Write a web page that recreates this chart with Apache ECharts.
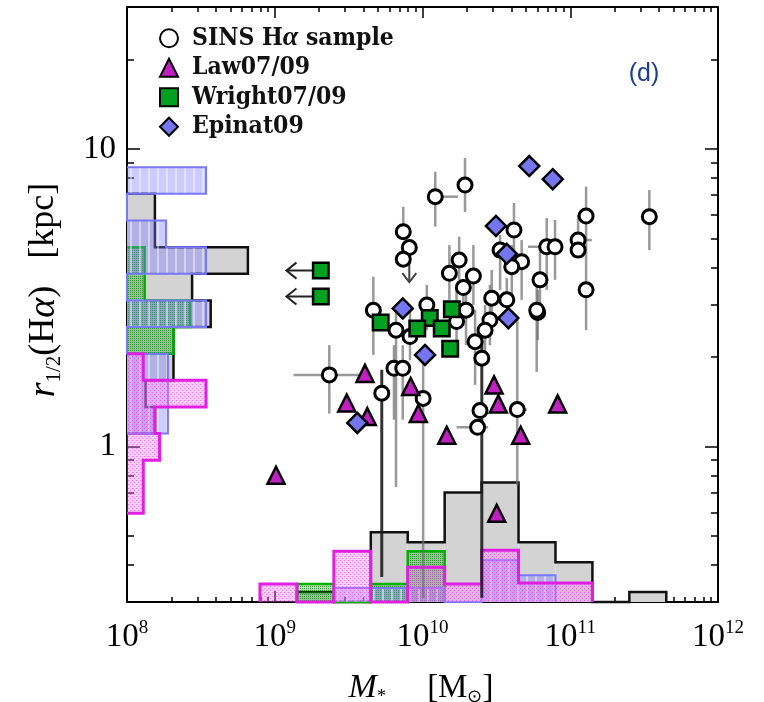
<!DOCTYPE html>
<html><head><meta charset="utf-8">
<script src="https://cdn.jsdelivr.net/npm/echarts@6/dist/echarts.min.js"></script>
<style>html,body{margin:0;padding:0;background:#fff}#c{width:764px;height:702px}</style>
</head><body><div id="c"></div>
<script>
// ================= DATA =================
// x-axis tick labels (exponents of 10, stellar mass in Msun)
const xTickExponents = [8, 9, 10, 11, 12];
// y-axis tick labels (kpc)
const yTickLabels = [1, 10];

// SINS Halpha sample: [M*, r1/2, rLow, rHigh, MLow, MHigh]
const sinsHa = [
  [1.22e10, 6.91, 5.48, 8.38, null, 1.74e10],
  [1.94e10, 7.56, 6.14, 9.32],
  [7.41e9, 5.27, null, 6.39],
  [8.14e9, 4.66],
  [7.41e9, 4.26],
  [4.65e9, 2.87, 2.03, 3.72],
  [1.52e10, 3.82, 3.11, 4.75],
  [1.77e10, 4.23, 3.63, 5.07],
  [1.89e10, 3.42, 2.66, null],
  [1.28e11, 5.95, 4.57, 7.47],
  [3.43e11, 5.92, 4.57, 7.28],
  [4.16e10, 5.34, 4.07, 6.58],
  [3.35e10, 4.57, 3.36, 5.14],
  [4.69e10, 4.18, 3.11, 4.94],
  [4.02e10, 4.02, 2.99, 4.75],
  [6.93e10, 4.69, 3.36, 5.86, 5.18e10, 8.75e10],
  [7.89e10, 4.69, 3.63, 5.77],
  [1.13e11, 4.94, null, 6.00, null, 1.40e11],
  [1.13e11, 4.57],
  [1.28e11, 3.36, 2.46, 4.57],
  [6.24e10, 3.63, 2.66, 4.75],
  [6.02e10, 2.82, 2.28, 3.36],
  [2.21e10, 3.74, 2.99, 4.75],
  [2.94e10, 3.15, 2.46, 3.92],
  [3.72e10, 3.11, 2.56, 3.68],
  [6.62e9, 2.46, 0.73, 2.99],
  [8.23e9, 2.34, 1.95, 2.99],
  [1.07e10, 2.99, 2.46, 3.49],
  [1.97e10, 2.87, 2.19, 3.49],
  [1.70e10, 2.63, 2.19, 3.36],
  [2.86e10, 2.66, 2.19, 3.49],
  [2.65e10, 2.46, 1.95, 2.99],
  [2.27e10, 2.25, 1.61, 2.87],
  [5.93e10, 2.87, 1.78, 3.49],
  [2.34e9, 1.74, 1.29, 2.19, 1.34e9, 3.97e9],
  [5.30e9, 1.51, 0.364, 1.81],
  [6.41e9, 1.83, 1.23, 2.19],
  [7.35e9, 1.83, 1.23, 2.19],
  [1.01e10, 1.45, 0.31, 1.95],
  [2.52e10, 1.98, 0.31, 2.56],
  [2.45e10, 1.32],
  [4.38e10, 1.33, 0.742, 2.66, 3.91e10, 5.1e10],
  [2.36e10, 1.16, null, null, 1.70e10, 2.78e10]
];
// SINS upper limit in size: [M*, rFrom, rTo]
const sinsUpperLimits = [[8.14e9, 4.66, 3.57]];

// Law07/09: [M*, r1/2]
const law0709 = [
  [1.02e9, 0.80], [4.08e9, 1.76], [3.07e9, 1.40], [4.23e9, 1.26],
  [8.32e9, 1.59], [9.37e9, 1.29], [1.46e10, 1.09], [3.05e10, 1.61],
  [3.26e10, 1.39], [8.22e10, 1.39], [4.62e10, 1.09], [3.18e10, 0.596]
];
// Wright07/09: [M*, r1/2]
const wright0709 = [
  [2.05e9, 3.90], [2.05e9, 3.19], [5.21e9, 2.61], [1.12e10, 2.70],
  [9.22e9, 2.49], [1.35e10, 2.49], [1.58e10, 2.89], [1.54e10, 2.13]
];
// Wright upper limits in mass: [M*, r1/2, arrow tip M*]
const wrightMassLimits = [[2.05e9, 3.90, 1.2e9], [2.05e9, 3.19, 1.2e9]];
// Epinat09: [M*, r1/2]
const epinat09 = [
  [5.28e10, 8.76], [7.61e10, 7.91], [3.14e10, 5.51], [3.72e10, 4.44],
  [7.35e9, 2.91], [3.81e10, 2.70], [1.04e10, 2.03], [3.62e9, 1.20]
];

// Mass histogram (bottom): bin edges in log10(M*/Msun), heights (histogram units)
const massBinEdges = [8.9, 9.15, 9.4, 9.65, 9.9, 10.15, 10.4, 10.65, 10.9, 11.15, 11.4, 11.65];
const massHistSINS   = [0, 1, 0, 7, 6, 11, 12, 6, 4, 0, 1];
const massHistWright = [0, 1.8, 0, 1.8, 5.1, 0, 0, 0, 0, 0, 0];
const massHistEpinat = [0, 0, 1.4, 1.4, 1.4, 0, 4.2, 2.7, 0, 0, 0];
const massHistLaw    = [1.8, 0, 5.1, 0, 3.5, 1.8, 5.2, 1.9, 1.9, 0, 0];

// Size histogram (left): bin edges in kpc, widths (histogram units)
const radBinEdges = [0.596, 0.732, 0.899, 1.105, 1.358, 1.669, 2.051, 2.521, 3.097, 3.806, 4.677, 5.748, 7.063, 8.680];
const radHistSINS   = [0, 0, 0, 3, 2, 5, 5, 9, 7, 13, 3, 3, 0];
const radHistWright = [0, 0, 0, 0, 0, 0, 5.0, 6.8, 1.9, 1.9, 0, 0, 0];
const radHistEpinat = [0, 0, 0, 4.4, 4.4, 4.4, 0, 8.5, 0, 8.5, 4.2, 0, 8.5];
const radHistLaw    = [1.75, 1.75, 3.5, 3.0, 8.5, 1.75, 0, 0, 0, 0, 0, 0, 0];

// ================= STYLE / BUILD =================
const L = Math.log10;
const darkErrorBars = [35, 39];

function makePattern(w, h, draw) {
  const c = document.createElement('canvas');
  c.width = w; c.height = h;
  draw(c.getContext('2d'));
  return { image: c, repeat: 'repeat' };
}
const patBlue = makePattern(9, 4, g => {
  g.fillStyle = 'rgba(120,120,255,0.38)'; g.fillRect(0, 0, 9, 4);
  g.fillStyle = 'rgba(255,255,255,0.45)'; g.fillRect(4, 0, 2, 4);
});
const patGreen = makePattern(4, 4, g => {
  g.fillStyle = 'rgba(0,170,0,0.30)'; g.fillRect(0, 0, 4, 4);
  g.fillStyle = 'rgba(0,120,0,0.65)'; g.fillRect(0, 0, 1, 1); g.fillRect(2, 2, 1, 1);
  g.fillRect(2, 0, 1, 1); g.fillRect(0, 2, 1, 1);
});
const patMag = makePattern(4, 4, g => {
  g.fillStyle = 'rgba(255,120,255,0.35)'; g.fillRect(0, 0, 4, 4);
  g.fillStyle = 'rgba(225,50,225,0.6)'; g.fillRect(0, 0, 1, 1); g.fillRect(2, 2, 1, 1);
});

function firstLast(vals) {
  let f = -1, l = -1;
  vals.forEach((v, i) => { if (v > 0) { if (f < 0) f = i; l = i; } });
  return [f, l];
}

function massHist(name, vals, fill, stroke, lw, z) {
  const items = [];
  vals.forEach((v, i) => { if (v > 0) items.push([massBinEdges[i], massBinEdges[i + 1], v]); });
  return {
    type: 'custom', name, xAxisIndex: 0, yAxisIndex: 4, z, silent: true, data: items,
    renderItem(params, api) {
      const a = api.coord([api.value(0), 0]), b = api.coord([api.value(1), api.value(2)]);
      const ch = [{ type: 'rect', shape: { x: a[0], y: b[1], width: b[0] - a[0], height: a[1] - b[1] }, style: { fill } }];
      if (params.dataIndex === 0) {
        const [f, l] = firstLast(vals);
        const pts = [api.coord([massBinEdges[f], 0])];
        for (let i = f; i <= l; i++) {
          pts.push(api.coord([massBinEdges[i], vals[i]]));
          pts.push(api.coord([massBinEdges[i + 1], vals[i]]));
        }
        pts.push(api.coord([massBinEdges[l + 1], 0]));
        ch.push({ type: 'polyline', z2: 10, shape: { points: pts }, style: { stroke, lineWidth: lw, fill: null, lineJoin: 'miter' } });
      }
      return { type: 'group', children: ch };
    }
  };
}
function radHist(name, vals, fill, stroke, lw, z) {
  const items = [];
  vals.forEach((v, i) => { if (v > 0) items.push([L(radBinEdges[i]), L(radBinEdges[i + 1]), v]); });
  return {
    type: 'custom', name, xAxisIndex: 4, yAxisIndex: 0, z, silent: true, data: items,
    renderItem(params, api) {
      const a = api.coord([0, api.value(0)]), b = api.coord([api.value(2), api.value(1)]);
      const ch = [{ type: 'rect', shape: { x: a[0], y: b[1], width: b[0] - a[0], height: a[1] - b[1] }, style: { fill } }];
      if (params.dataIndex === 0) {
        const [f, l] = firstLast(vals);
        const pts = [api.coord([0, L(radBinEdges[f])])];
        for (let i = f; i <= l; i++) {
          pts.push(api.coord([vals[i], L(radBinEdges[i])]));
          pts.push(api.coord([vals[i], L(radBinEdges[i + 1])]));
        }
        pts.push(api.coord([0, L(radBinEdges[l + 1])]));
        ch.push({ type: 'polyline', z2: 10, shape: { points: pts }, style: { stroke, lineWidth: lw, fill: null, lineJoin: 'miter' } });
      }
      return { type: 'group', children: ch };
    }
  };
}

const xMinor = [];
for (let n = 8; n < 12; n++) for (let k = 2; k <= 9; k++) xMinor.push(n + L(k));
const yMinor = [0.4, 0.5, 0.6, 0.7, 0.8, 0.9, 2, 3, 4, 5, 6, 7, 8, 9, 20].map(L);
const yMajor = yTickLabels.map(L);

const serif = 'Liberation Serif';
const legendFont = '"DejaVu Serif Condensed", "DejaVu Serif", serif';
const tickLine = { color: '#000', width: 1.5 };
const xBase = { type: 'value', min: 8, max: 12, splitLine: { show: false }, axisLabel: { show: false },
  axisLine: { show: false, onZero: false }, axisTick: { show: false }, axisPointer: { show: false } };
const yBase = { type: 'value', min: L(0.3), max: L(30), splitLine: { show: false }, axisLabel: { show: false },
  axisLine: { show: false, onZero: false }, axisTick: { show: false }, axisPointer: { show: false } };
const frameLine = { show: true, onZero: false, lineStyle: { color: '#000', width: 2 } };

const chart = echarts.init(document.getElementById('c'), null, { renderer: 'canvas' });
chart.setOption({
  animation: false,
  backgroundColor: '#fff',
  grid: { left: 127, top: 7, width: 591, height: 595 },
  xAxis: [
    { ...xBase, position: 'bottom', interval: 1, axisLine: frameLine,
      axisTick: { show: true, inside: true, length: 11, customValues: xTickExponents, lineStyle: tickLine },
      axisLabel: { show: true, margin: 17, customValues: xTickExponents,
        formatter: v => '{b|10}{s|' + Math.round(v) + '}',
        rich: { b: { fontFamily: serif, fontSize: 33, color: '#000', lineHeight: 36 },
                s: { fontFamily: serif, fontSize: 19, color: '#000', verticalAlign: 'top', lineHeight: 20 } } } },
    { ...xBase, position: 'bottom', axisTick: { show: true, inside: true, length: 5, customValues: xMinor, lineStyle: tickLine } },
    { ...xBase, position: 'top', axisLine: frameLine,
      axisTick: { show: true, inside: true, length: 11, customValues: xTickExponents, lineStyle: tickLine } },
    { ...xBase, position: 'top', axisTick: { show: true, inside: true, length: 5, customValues: xMinor, lineStyle: tickLine } },
    { type: 'value', min: 0, max: 63.55, show: false }
  ],
  yAxis: [
    { ...yBase, position: 'left', axisLine: frameLine,
      axisTick: { show: true, inside: true, length: 13, customValues: yMajor, lineStyle: tickLine },
      axisLabel: { show: true, margin: 11, customValues: yMajor,
        formatter: v => String(Math.round(Math.pow(10, v))),
        fontFamily: serif, fontSize: 33, color: '#000' } },
    { ...yBase, position: 'left', axisTick: { show: true, inside: true, length: 7, customValues: yMinor, lineStyle: tickLine } },
    { ...yBase, position: 'right', axisLine: frameLine,
      axisTick: { show: true, inside: true, length: 13, customValues: yMajor, lineStyle: tickLine } },
    { ...yBase, position: 'right', axisTick: { show: true, inside: true, length: 7, customValues: yMinor, lineStyle: tickLine } },
    { type: 'value', min: 0, max: 59.8, show: false }
  ],
  legend: {
    orient: 'vertical', left: 159, top: 23.5, padding: 0, itemGap: 0, itemWidth: 18, itemHeight: 18,
    selectedMode: false,
    data: [
      { name: 'SINS Hα sample', icon: 'circle' },
      { name: 'Law07/09', icon: 'triangle' },
      { name: 'Wright07/09', icon: 'rect' },
      { name: 'Epinat09', icon: 'diamond' }
    ],
    formatter: n => n === 'SINS Hα sample' ? 'SINS H{a|α} sample' : n,
    textStyle: { fontFamily: legendFont, fontSize: 24.5, fontWeight: 'bold', color: '#111', lineHeight: 29.5,
      padding: [0, 0, 0, 9],
      rich: { a: { fontFamily: serif, fontStyle: 'italic', fontWeight: 'bold', fontSize: 28, lineHeight: 29.5 } } }
  },
  graphic: [
    { type: 'text', x: 44, y: 290, rotation: Math.PI / 2, silent: true,
      style: { text: '{i|r}{sub|1/2}(H{i|α})   [kpc]', fontFamily: serif, fontSize: 36, fill: '#000',
        align: 'center', verticalAlign: 'middle',
        rich: { i: { fontFamily: serif, fontStyle: 'italic', fontSize: 38, lineHeight: 42 },
                sub: { fontFamily: serif, fontSize: 21, verticalAlign: 'bottom', lineHeight: 26 } } } },
    { type: 'text', x: 421, y: 688, silent: true,
      style: { text: '{i|M}{sub|*}     [M{sub|⊙}]', fontFamily: serif, fontSize: 33, fill: '#000',
        align: 'center', verticalAlign: 'middle',
        rich: { i: { fontFamily: serif, fontStyle: 'italic', fontSize: 34, lineHeight: 36 },
                sub: { fontFamily: serif, fontSize: 18, verticalAlign: 'bottom', lineHeight: 22 } } } },
    { type: 'text', x: 644, y: 74, silent: true,
      style: { text: '(d)', fontFamily: 'Liberation Sans', fontSize: 25, fill: '#1d3c8f', align: 'center', verticalAlign: 'middle' } }
  ],
  series: [
    massHist('hSINSm', massHistSINS, '#d3d3d3', '#111', 2.5, 1),
    radHist('hSINSr', radHistSINS, '#d3d3d3', '#111', 2.5, 1),
    massHist('hWm', massHistWright, patGreen, '#00b000', 2.5, 2),
    radHist('hWr', radHistWright, patGreen, '#00b000', 2.5, 2),
    massHist('hEm', massHistEpinat, patBlue, '#7878ff', 2, 3),
    radHist('hEr', radHistEpinat, patBlue, '#7878ff', 2, 3),
    massHist('hLm', massHistLaw, patMag, '#e020e0', 3, 4),
    radHist('hLr', radHistLaw, patMag, '#e020e0', 3, 4),
    { type: 'custom', name: 'sinsErr', xAxisIndex: 0, yAxisIndex: 0, z: 5, silent: true,
      data: sinsHa.map(d => [L(d[0]), L(d[1])]),
      renderItem(params, api) {
        const d = sinsHa[params.dataIndex];
        const lm = L(d[0]), lr = L(d[1]);
        const dark = darkErrorBars.includes(params.dataIndex);
        const st = { stroke: dark ? 'rgba(30,30,30,0.9)' : 'rgba(110,110,110,0.7)', lineWidth: dark ? 3 : 2.5 };
        const ch = [];
        if (d[2] != null || d[3] != null) {
          const a = api.coord([lm, L(d[2] ?? d[1])]), b = api.coord([lm, L(d[3] ?? d[1])]);
          ch.push({ type: 'line', shape: { x1: a[0], y1: a[1], x2: b[0], y2: b[1] }, style: st });
        }
        if (d[4] != null || d[5] != null) {
          const a = api.coord([L(d[4] ?? d[0]), lr]), b = api.coord([L(d[5] ?? d[0]), lr]);
          ch.push({ type: 'line', shape: { x1: a[0], y1: a[1], x2: b[0], y2: b[1] }, style: st });
        }
        return { type: 'group', children: ch };
      } },
    { type: 'custom', name: 'sinsLim', xAxisIndex: 0, yAxisIndex: 0, z: 5, silent: true,
      data: sinsUpperLimits.map(d => [L(d[0]), L(d[1])]),
      renderItem(params, api) {
        const d = sinsUpperLimits[params.dataIndex];
        const p = api.coord([L(d[0]), L(d[1])]), q = api.coord([L(d[0]), L(d[2])]);
        const st = { stroke: '#444', lineWidth: 2, fill: null };
        return { type: 'group', children: [
          { type: 'line', shape: { x1: p[0], y1: p[1], x2: q[0], y2: q[1] }, style: st },
          { type: 'polyline', shape: { points: [[q[0] - 7, q[1] - 9], [q[0], q[1]], [q[0] + 7, q[1] - 9]] }, style: st }
        ] };
      } },
    { type: 'custom', name: 'wrightLim', xAxisIndex: 0, yAxisIndex: 0, z: 5, silent: true,
      data: wrightMassLimits.map(d => [L(d[0]), L(d[1])]),
      renderItem(params, api) {
        const d = wrightMassLimits[params.dataIndex];
        const p = api.coord([L(d[0]), L(d[1])]), q = api.coord([L(d[2]), L(d[1])]);
        const st = { stroke: '#222', lineWidth: 2, fill: null };
        return { type: 'group', children: [
          { type: 'line', shape: { x1: p[0], y1: p[1], x2: q[0], y2: q[1] }, style: st },
          { type: 'polyline', shape: { points: [[q[0] + 10, q[1] - 8], [q[0], q[1]], [q[0] + 10, q[1] + 8]] }, style: st }
        ] };
      } },
    { type: 'scatter', name: 'SINS Hα sample', z: 6, silent: true, symbol: 'circle', symbolSize: 14,
      data: sinsHa.map(d => [L(d[0]), L(d[1])]),
      itemStyle: { color: '#fff', borderColor: '#000', borderWidth: 3, opacity: 1 } },
    { type: 'scatter', name: 'Law07/09', z: 6, silent: true, symbol: 'triangle', symbolSize: 17,
      data: law0709.map(d => [L(d[0]), L(d[1])]),
      itemStyle: { color: '#c020c0', borderColor: '#000', borderWidth: 2.5, opacity: 1 } },
    { type: 'scatter', name: 'Wright07/09', z: 6, silent: true, symbol: 'rect', symbolSize: 15.5,
      data: wright0709.map(d => [L(d[0]), L(d[1])]),
      itemStyle: { color: '#00a020', borderColor: '#000', borderWidth: 2.5, opacity: 1 } },
    { type: 'scatter', name: 'Epinat09', z: 6, silent: true, symbol: 'diamond', symbolSize: 20,
      data: epinat09.map(d => [L(d[0]), L(d[1])]),
      itemStyle: { color: '#7575f0', borderColor: '#000', borderWidth: 2.5, opacity: 1 } }
  ]
});
</script>
</body></html>
